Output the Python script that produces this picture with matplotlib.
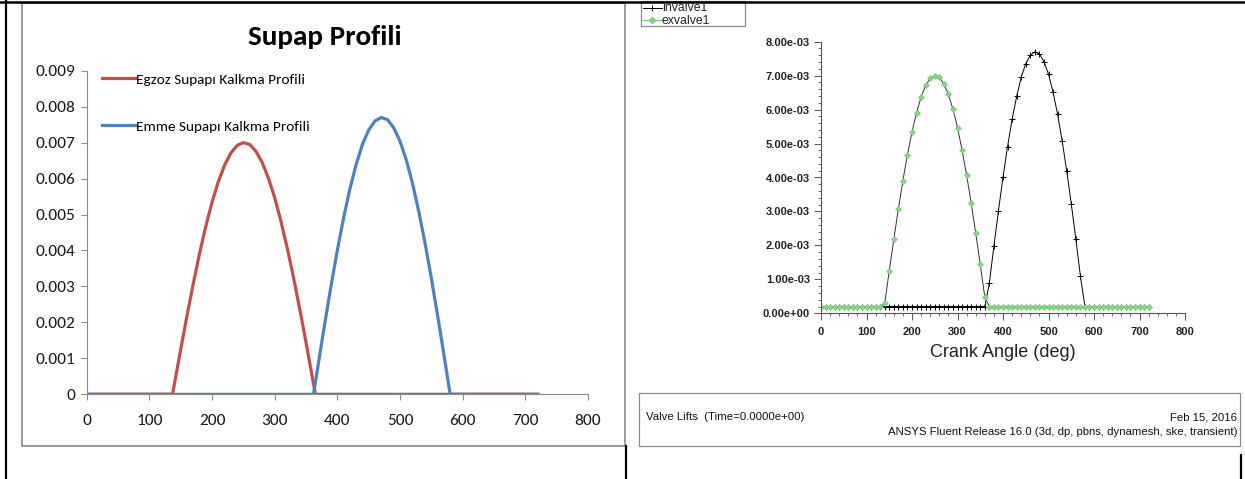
import numpy as np
import matplotlib
matplotlib.use("Agg")
import matplotlib.pyplot as plt
from matplotlib.patches import Rectangle
from matplotlib.ticker import FuncFormatter, MultipleLocator

# valve lift data (crank angle in deg, lift in m)
exhaust_open, exhaust_close = 137, 365
exhaust_deg = [140, 150, 160, 170, 180, 190, 200, 210, 220, 230, 240, 250,
               260, 270, 280, 290, 300, 310, 320, 330, 340, 350, 360]
exhaust_lift = [0.00029, 0.00125, 0.00218, 0.00307, 0.00391, 0.00467, 0.00534,
                0.00591, 0.00637, 0.00671, 0.00692, 0.00700, 0.00695, 0.00676,
                0.00645, 0.00601, 0.00547, 0.00481, 0.00407, 0.00325, 0.00237,
                0.00144, 0.00048]
intake_open, intake_close = 362, 580
intake_deg = [370, 380, 390, 400, 410, 420, 430, 440, 450, 460, 470, 480, 490,
              500, 510, 520, 530, 540, 550, 560, 570]
intake_lift = [0.00089, 0.00198, 0.00302, 0.00401, 0.00491, 0.00571, 0.00639,
               0.00695, 0.00735, 0.00760, 0.00770, 0.00764, 0.00741, 0.00704,
               0.00652, 0.00586, 0.00508, 0.00420, 0.00323, 0.00219, 0.00111]
cycle_end = 720
fluent_step = 10
fluent_min_lift = 0.0002

excel_title = "Supap Profili"
excel_labels = ["Egzoz Supapı Kalkma Profili", "Emme Supapı Kalkma Profili"]
excel_xticks = [0, 100, 200, 300, 400, 500, 600, 700, 800]
excel_yticks = [0, 0.001, 0.002, 0.003, 0.004, 0.005, 0.006, 0.007, 0.008, 0.009]
excel_yticklabels = ["0", "0.001", "0.002", "0.003", "0.004", "0.005",
                     "0.006", "0.007", "0.008", "0.009"]
fluent_labels = ["invalve1", "exvalve1"]
fluent_xlabel = "Crank Angle (deg)"
fluent_footer_left = "Valve Lifts  (Time=0.0000e+00)"
fluent_footer_date = "Feb 15, 2016"
fluent_footer_release = "ANSYS Fluent Release 16.0 (3d, dp, pbns, dynamesh, ske, transient)"

NARROW = ["Carlito", "Liberation Sans Narrow", "Lato", "DejaVu Sans"]
ARIAL = ["Liberation Sans", "DejaVu Sans"]
W, H = 1245, 479

# excel series: closed at zero outside the lift window
ex_x = [0, exhaust_open] + exhaust_deg + [exhaust_close, cycle_end]
ex_y = [0, 0] + exhaust_lift + [0, 0]
in_x = [0, intake_open] + intake_deg + [intake_close, cycle_end]
in_y = [0, 0] + intake_lift + [0, 0]

# fluent series: sampled every 10 deg with a minimum lift
fl_x = np.arange(0, cycle_end + 1, fluent_step)
fl_ex = np.full(len(fl_x), fluent_min_lift)
fl_ex[np.searchsorted(fl_x, exhaust_deg)] = np.maximum(exhaust_lift, fluent_min_lift)
fl_in = np.full(len(fl_x), fluent_min_lift)
fl_in[np.searchsorted(fl_x, intake_deg)] = np.maximum(intake_lift, fluent_min_lift)

fig = plt.figure(figsize=(W / 100, H / 100), dpi=100)
fig.patch.set_facecolor("white")

# background layer in pixel coordinates (table borders, boxes)
bg = fig.add_axes([0, 0, 1, 1], zorder=0)
bg.set_xlim(0, W)
bg.set_ylim(H, 0)
bg.axis("off")
bg.plot([0, W], [2, 2], color="black", lw=1.8)
bg.plot([6, 6], [0, H], color="black", lw=1.6)
bg.plot([626, 626], [446, H], color="black", lw=1.6)
bg.plot([1241, 1241], [455, H], color="black", lw=1.6)
bg.add_patch(Rectangle((22, 3), 603, 443, fill=False, ec="#8a8a8a", lw=1.2))
bg.add_patch(Rectangle((639, 393), 601, 53, fill=False, ec="#8a8a8a", lw=0.9))

# ---- left: Excel-style chart ----
ax1 = fig.add_axes([86.7 / W, 1 - 394.3 / H, 501.3 / W, 323.6 / H], zorder=1)
ax1.patch.set_alpha(0)
ax1.plot(ex_x, ex_y, color="#C0504D", lw=2.3, label=excel_labels[0],
         solid_joinstyle="round")
ax1.plot(in_x, in_y, color="#4F81BD", lw=2.3, label=excel_labels[1],
         solid_joinstyle="round")
ax1.set_xlim(0, 800)
ax1.set_ylim(0, 0.009)
ax1.set_xticks(excel_xticks)
ax1.set_xticklabels([str(v) for v in excel_xticks])
ax1.set_yticks(excel_yticks)
ax1.set_yticklabels(excel_yticklabels)
for s in ["top", "right"]:
    ax1.spines[s].set_visible(False)
for s in ["left", "bottom"]:
    ax1.spines[s].set_color("#8a8a8a")
    ax1.spines[s].set_linewidth(0.8)
ax1.tick_params(axis="both", direction="out", length=4, width=0.8, color="#8a8a8a",
                labelcolor="#1a1a1a", labelsize=12.5)
ax1.tick_params(axis="x", pad=10)
ax1.tick_params(axis="y", pad=4)
for lab in ax1.get_xticklabels() + ax1.get_yticklabels():
    lab.set_family(NARROW)
leg = ax1.legend(loc="upper left", bbox_to_anchor=(102 / W, 1 - 73 / H),
                 bbox_transform=fig.transFigure, frameon=False,
                 prop={"family": NARROW, "size": 11}, handlelength=2.15,
                 handletextpad=0.1, labelspacing=2.25, borderaxespad=0, borderpad=0)
fig.text(325 / W, 1 - 37 / H, excel_title, ha="center", va="center",
         family=NARROW, weight="bold", size=21)

# ---- right: Fluent-style chart ----
ax2 = fig.add_axes([821 / W, 1 - 313.3 / H, 364 / W, 271.6 / H], zorder=1)
ax2.patch.set_alpha(0)
ax2.plot(fl_x, fl_in, color="black", lw=0.7, marker="+", ms=4.5, mew=0.7)
ax2.plot(fl_x, fl_ex, color="#333333", lw=0.7, marker="D", ms=3,
         mfc="#86d686", mec="#74c874", mew=0.5)
ax2.set_xlim(0, 800)
ax2.set_ylim(0, 0.008)
ax2.xaxis.set_major_locator(MultipleLocator(100))
ax2.xaxis.set_minor_locator(MultipleLocator(20))
ax2.yaxis.set_major_locator(MultipleLocator(0.001))
ax2.yaxis.set_minor_locator(MultipleLocator(0.0002))
ax2.yaxis.set_major_formatter(FuncFormatter(lambda v, p: "%.2e" % v))
for s in ["top", "right"]:
    ax2.spines[s].set_visible(False)
for s in ["left", "bottom"]:
    ax2.spines[s].set_color("#555555")
    ax2.spines[s].set_linewidth(0.8)
ax2.tick_params(which="major", direction="out", length=5, width=0.7, color="#555555",
                labelcolor="#222222", labelsize=8, pad=3)
ax2.tick_params(axis="x", which="major", pad=5)
ax2.tick_params(which="minor", direction="out", length=2.5, width=0.6, color="#555555")
for lab in ax2.get_xticklabels() + ax2.get_yticklabels():
    lab.set_family(ARIAL)
    lab.set_weight("bold")
ax2.set_xlabel(fluent_xlabel, family=ARIAL, size=13, color="#222222", labelpad=5)

# Fluent legend box
bg.add_patch(Rectangle((641, 1), 104, 25, fill=False, ec="#8a8a8a", lw=0.9))
bg.plot([643, 662], [8, 8], color="black", lw=0.7)
bg.plot([652], [8], marker="+", color="black", ms=4.5, mew=0.7)
bg.plot([643, 662], [20, 20], color="#74c874", lw=0.9)
bg.plot([652], [20], marker="D", ms=3, mfc="#86d686", mec="#74c874")
bg.text(662, 8, fluent_labels[0], family=ARIAL, size=8.8, va="center", ha="left",
        color="#222222")
bg.text(662, 20.5, fluent_labels[1], family=ARIAL, size=8.8, va="center", ha="left",
        color="#222222")

# Fluent footer
bg.text(646, 417, fluent_footer_left, family=ARIAL, size=8.2, va="center", ha="left",
        color="#111111")
bg.text(1237, 417, fluent_footer_date, family=ARIAL, size=8.2, va="center", ha="right",
        color="#111111")
bg.text(1237, 432, fluent_footer_release, family=ARIAL, size=8.2, va="center",
        ha="right", color="#111111")

fig.savefig("out.png", dpi=100)
